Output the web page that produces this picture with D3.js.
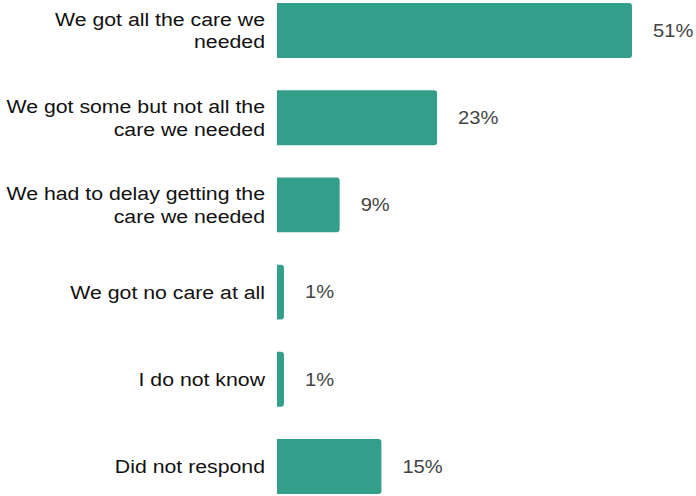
<!DOCTYPE html>
<html>
<head>
<meta charset="utf-8">
<script src="https://cdn.jsdelivr.net/npm/d3@7"></script>
<style>
  html, body { margin: 0; padding: 0; background: #fff; }
  svg { display: block; font-family: "Liberation Sans", Arial, sans-serif; }
</style>
</head>
<body>
<svg id="chart" width="696" height="496"></svg>
<script>
// Survey responses about access to care
const categories = [
  ["We got all the care we", "needed"],
  ["We got some but not all the", "care we needed"],
  ["We had to delay getting the", "care we needed"],
  ["We got no care at all"],
  ["I do not know"],
  ["Did not respond"]
];
const values = [51, 23, 9, 1, 1, 15];
const valueLabels = ["51%", "23%", "9%", "1%", "1%", "15%"];

const svg = d3.select("#chart");
const barColor = "#339e8a";
const r = 3;
const stretch = 1.12; // wide set text

const ids = categories.map((d, i) => i);
const y = d3.scaleBand()
  .domain(ids)
  .range([-13.1, 510.1])
  .paddingInner(0.37)
  .paddingOuter(0.185);

const x = d3.scaleLinear()
  .domain([0, 51])
  .range([277, 632]);

// bar shape: square on the left, rounded on the right
function barPath(x0, x1, y0, h) {
  const rr = Math.min(r, (x1 - x0) / 2, h / 2);
  return `M${x0},${y0}H${x1 - rr}Q${x1},${y0} ${x1},${y0 + rr}` +
         `V${y0 + h - rr}Q${x1},${y0 + h} ${x1 - rr},${y0 + h}H${x0}Z`;
}

svg.append("g").selectAll("path")
  .data(values)
  .join("path")
  .attr("fill", barColor)
  .attr("d", (v, i) => barPath(x(0), x(v), y(i), y.bandwidth()));

// value labels
svg.append("g").selectAll("text")
  .data(values)
  .join("text")
  .attr("transform", (v, i) =>
    `translate(${x(v) + 21},${y(i) + y.bandwidth() / 2}) scale(${stretch},1)`)
  .attr("dy", "0.35em")
  .attr("fill", "#444")
  .attr("font-size", 18)
  .text((v, i) => valueLabels[i]);

// category labels, right-aligned
const lineH = 22.7;
const lab = svg.append("g").selectAll("text")
  .data(categories)
  .join("text")
  .attr("text-anchor", "end")
  .attr("fill", "#111")
  .attr("font-size", 19)
  .attr("transform", (d, i) =>
    `translate(265,${y(i) + y.bandwidth() / 2 - (d.length - 1) * lineH / 2}) scale(${stretch},1)`);

lab.selectAll("tspan")
  .data(d => d)
  .join("tspan")
  .attr("x", 0)
  .attr("dy", (d, j) => j === 0 ? "0.35em" : lineH)
  .text(d => d);
</script>
</body>
</html>
